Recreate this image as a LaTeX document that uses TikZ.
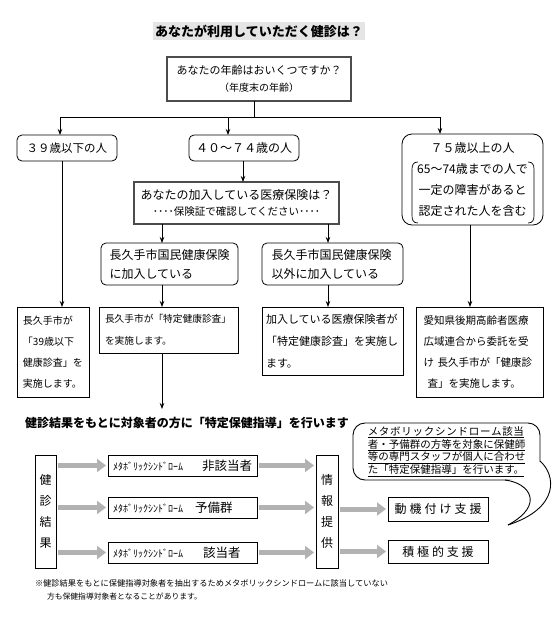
\documentclass[tikz,border=0pt]{standalone}
\usepackage{fontspec}
\usepackage{graphicx}
\setmainfont{Noto Sans CJK JP}
\usetikzlibrary{arrows.meta}
\newcommand{\fs}[2]{\fontsize{#1}{#2}\selectfont}
\begin{document}
\begin{tikzpicture}[x=1pt,y=-1pt,
  every node/.style={inner sep=0pt, outer sep=0pt},
  arr/.style={line width=0.8pt, -{Stealth[length=6pt,width=4.5pt]}},
  conn/.style={line width=0.8pt},
  thickbox/.style={draw=black!70, line width=1.8pt, fill=white},
  rbox/.style={draw=black, line width=0.8pt, rounded corners=5pt},
  sbox/.style={draw=black, line width=0.8pt},
  fat/.style={line width=5pt, draw=gray!60, -{Triangle[length=9pt,width=13pt]}, shorten <=2pt, shorten >=2pt},
]
\useasboundingbox (0,0) rectangle (558,626);

% title
\node[fill=gray!20, inner xsep=2pt, inner ysep=3pt, font=\fs{13}{15}\bfseries] (title) at (259,31) {あなたが利用していただく健診は？};

% age question
\node[thickbox, minimum width=184pt, minimum height=44pt, align=center, font=\fs{11}{17}] (q1) at (259,79) {あなたの年齢はおいくつですか？\\{\fs{10}{12}（年度末の年齢）}};

% age groups
\node[rbox, minimum width=100pt, minimum height=26pt, font=\fs{11.5}{14}] (a39) at (67,148) {３９歳以下の人};
\node[rbox, minimum width=110pt, minimum height=26pt, font=\fs{12}{14}] (a40) at (244,148) {４０～７４歳の人};
\node[rbox, rounded corners=10pt, minimum width=141pt, minimum height=91pt, align=center, font=\fs{12}{20.7}] (a75) at (472.5,179.5) {７５歳以上の人\\65～74歳までの人で\\一定の障害があると\\認定された人を含む};
\draw[line width=0.7pt] (418,162) .. controls (413,162) and (412,165) .. (412,170) -- (412,215) .. controls (412,220) and (413,223) .. (418,223);
\draw[line width=0.7pt] (528,162) .. controls (533,162) and (534,165) .. (534,170) -- (534,215) .. controls (534,220) and (533,223) .. (528,223);

% insurance question
\node[thickbox, minimum width=205pt, minimum height=42pt, align=center, font=\fs{12}{16}] (ins) at (236.5,203) {あなたの加入している医療保険は？\\{\fs{10.5}{12}････保険証で確認してください････}};

\node[rbox, minimum width=137pt, minimum height=42pt, text width=120pt, align=left, font=\fs{12}{19}] (nk1) at (169.5,264) {長久手市国民健康保険\\に加入している};
\node[rbox, minimum width=141pt, minimum height=42pt, text width=122pt, align=left, font=\fs{12}{19}] (nk2) at (332.5,264) {長久手市国民健康保険\\以外に加入している};

% results
\node[sbox, minimum width=72pt, minimum height=90pt, text width=60pt, align=left, font=\fs{10}{21}] (r1) at (53,352) {長久手市が\\「39歳以下\\健康診査」を\\実施します。};
\node[sbox, minimum width=139pt, minimum height=46pt, text width=127pt, align=left, font=\fs{9.7}{22}] (r2) at (168.5,330) {長久手市が「特定健康診査」\\を実施します。};
\node[sbox, minimum width=141pt, minimum height=68pt, text width=133pt, align=left, font=\fs{11}{22}] (r3) at (332.5,341) {加入している医療保険者が\\「特定健康診査」を実施し\\ます。};
\node[sbox, minimum width=127pt, minimum height=90pt, text width=112pt, align=left, font=\fs{10.5}{21}] (r4) at (479.5,352) {愛知県後期高齢者医療\\広域連合から委託を受\\け~長久手市が「健康診\\\hspace*{4pt}査」を実施します。};

% tree connectors
\coordinate (j0) at (254,117);
\coordinate (jL) at (60,117);
\coordinate (jM) at (228,117);
\coordinate (jR) at (440,117);
\coordinate (x243) at (243,0);
\coordinate (x162) at (162,0);
\coordinate (x328) at (328,0);
\coordinate (x62) at (62,0);
\coordinate (x470) at (470,0);
\coordinate (e2) at (162,409);
\draw[conn] (q1.south -| j0) -- (j0);
\draw[conn] (jL) -- (jR);
\draw[arr] (jL) -- (jL |- a39.north);
\draw[arr] (jM) -- (jM |- a40.north);
\draw[arr] (jR) -- (jR |- a75.north);
\draw[arr] (a40.south -| x243) -- (ins.north -| x243);
\draw[arr] (ins.south -| x162) -- (nk1.north -| x162);
\draw[arr] (ins.south -| x328) -- (nk2.north -| x328);
\draw[arr] (a39.south -| x62) -- (r1.north -| x62);
\draw[arr] (nk1.south -| x162) -- (r2.north -| x162);
\draw[arr] (nk2.south -| x328) -- (r3.north -| x328);
\draw[arr] (a75.south -| x470) -- (r4.north -| x470);
\draw[arr] (r2.south -| x162) -- (e2);

% heading
\node[anchor=west, font=\fs{12}{14}\bfseries] (head) at (25,423) {健診結果をもとに対象者の方に「特定保健指導」を行います};

% speech bubble
\node[draw, line width=0.9pt, rounded corners=12pt, fill=white, minimum width=187pt, minimum height=57pt, align=left, font=\fs{10.5}{11.2}] (bub) at (446.5,451.5) {\underline{\addfontfeature{LetterSpace=7}メタボリックシンドローム該当}\\\underline{者・予備群の方等を対象に保健師}\\\underline{等の専門スタッフが個人に合わせ}\\\underline{た「特定保健指導」を行います。}};
\coordinate (tr1) at (505,480);
\coordinate (tip) at (508,525);
\coordinate (tr2) at (540,461);
\fill[white] (tr1) .. controls (530,483) and (545,505) .. (tip) .. controls (560,508) and (556,475) .. (tr2) -- (534,470) -- (525,478) -- cycle;
\draw[line width=0.9pt] (tr1) .. controls (530,483) and (545,505) .. (tip);
\draw[line width=0.9pt] (tip) .. controls (560,508) and (556,475) .. (tr2);

% bottom flow
\node[sbox, minimum width=21pt, minimum height=113pt, align=center, font=\fs{12}{21}] (kr) at (45.5,511.5) {健\\診\\結\\果};
\node[sbox, minimum width=149pt, minimum height=21pt, text width=139pt, align=left] (m1) at (182.5,465.5) {\makebox[89pt][l]{\fs{10}{10}ﾒﾀﾎﾞﾘｯｸｼﾝﾄﾞﾛｰﾑ}{\fs{12.5}{13}非該当者}};
\node[sbox, minimum width=149pt, minimum height=21pt, text width=139pt, align=left] (m2) at (182.5,507.5) {\makebox[82pt][l]{\fs{10}{10}ﾒﾀﾎﾞﾘｯｸｼﾝﾄﾞﾛｰﾑ}{\fs{12.5}{13}予備群}};
\node[sbox, minimum width=149pt, minimum height=21pt, text width=139pt, align=left] (m3) at (182.5,552.5) {\makebox[90pt][l]{\fs{10}{10}ﾒﾀﾎﾞﾘｯｸｼﾝﾄﾞﾛｰﾑ}{\fs{12.5}{13}該当者}};
\node[sbox, minimum width=22pt, minimum height=113pt, align=center, font=\fs{12}{21}] (info) at (327,511.5) {情\\報\\提\\供};
\node[sbox, minimum width=100pt, minimum height=24pt, font=\fs{12}{14}] (s1) at (438,509) {\addfontfeature{LetterSpace=25}動機付け支援};
\node[sbox, minimum width=100pt, minimum height=23pt, font=\fs{12}{14}] (s2) at (438,551.5) {\addfontfeature{LetterSpace=23}積極的支援};

\draw[fat] (kr.east |- m1.west) -- (m1.west);
\draw[fat] (kr.east |- m2.west) -- (m2.west);
\draw[fat] (kr.east |- m3.west) -- (m3.west);
\draw[fat] (m1.east) -- (info.west |- m1.east);
\draw[fat] (m2.east) -- (info.west |- m2.east);
\draw[fat] (m3.east) -- (info.west |- m3.east);
\draw[fat] (info.east |- s1.west) -- (s1.west);
\draw[fat] (info.east |- s2.west) -- (s2.west);

% footnote
\node[anchor=west, font=\fs{8.2}{14}] (fn1) at (35,583) {\resizebox{353pt}{!}{※健診結果をもとに保健指導対象者を抽出するためメタボリックシンドロームに該当していない}};
\node[anchor=west, font=\fs{8.2}{14}] (fn2) at (47,597) {\resizebox{155pt}{!}{方も保健指導対象者となることがあります。}};
\end{tikzpicture}
\end{document}
